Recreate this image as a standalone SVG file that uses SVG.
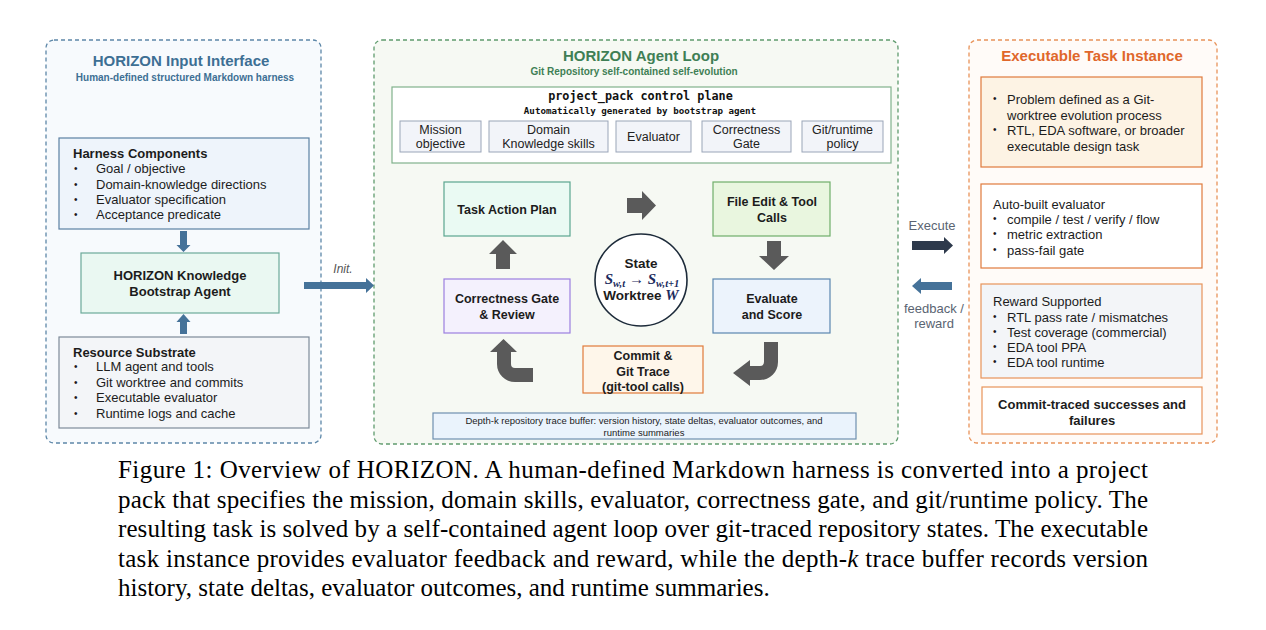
<svg xmlns="http://www.w3.org/2000/svg" width="1266" height="630" viewBox="0 0 1266 630">
<defs>
<style>
text { font-family: "Liberation Sans", Arial, Helvetica, sans-serif; fill: #1c1c1c; }
.title { font-size: 15px; font-weight: bold; text-anchor: middle; }
.sub { font-size: 10px; font-weight: bold; text-anchor: middle; }
.body { font-size: 13px; }
.bul { font-size: 10px; }
.hd { font-size: 13px; font-weight: bold; }
.node { font-size: 12.5px; font-weight: bold; text-anchor: middle; }
.pk { font-size: 12.5px; text-anchor: middle; fill: #222; }
.mono { font-family: "DejaVu Sans Mono", "Liberation Mono", monospace; font-weight: bold; text-anchor: middle; fill: #111; }
.cap { font-family: "Liberation Serif", "Times New Roman", serif; font-size: 25px; fill: #000; }
.math { font-family: "Liberation Serif", "Times New Roman", serif; font-style: italic; font-weight: bold; fill: #1c2b5e; }
.lbl { font-size: 13px; text-anchor: middle; fill: #5a6472; }
.cBlue { fill: #3d6f94; }
.cGreen { fill: #3f7f55; }
.cOrange { fill: #e0672b; }
.garrow { fill: #5a5a5a; }
.barrow { fill: #457299; }
.panel { stroke-width: 1.3; stroke-dasharray: 4 3; }
</style>
</defs>
<rect x="0" y="0" width="1266" height="630" fill="#ffffff"/>

<!-- Left panel -->
<g id="input-interface">
  <rect class="panel" x="46" y="40" width="275" height="403" rx="8" fill="#f7fafd" stroke="#5d87a8"/>
  <text class="title cBlue" x="181" y="66">HORIZON Input Interface</text>
  <text class="sub cBlue" x="185" y="81">Human-defined structured Markdown harness</text>
</g>
<g id="harness-components">
  <rect x="59" y="138" width="250" height="91" fill="#eef4fb" stroke="#5b80a3" stroke-width="1.2"/>
  <text class="hd" x="73" y="158">Harness Components</text>
  <text class="bul" x="74" y="172">•</text><text class="body" x="96" y="173">Goal / objective</text>
  <text class="bul" x="74" y="188">•</text><text class="body" x="96" y="189">Domain-knowledge directions</text>
  <text class="bul" x="74" y="203">•</text><text class="body" x="96" y="204">Evaluator specification</text>
  <text class="bul" x="74" y="218">•</text><text class="body" x="96" y="219">Acceptance predicate</text>
</g>
<g id="bootstrap-agent">
  <rect x="81" y="253" width="198" height="60" fill="#eaf8f2" stroke="#6caa9a" stroke-width="1.2"/>
  <text class="node" x="180" y="280" style="font-size:13px">HORIZON Knowledge</text>
  <text class="node" x="180" y="296" style="font-size:13px">Bootstrap Agent</text>
</g>
<g id="resource-substrate">
  <rect x="59" y="337" width="250" height="91" fill="#f3f5f8" stroke="#7d8a99" stroke-width="1.2"/>
  <text class="hd" x="73" y="357">Resource Substrate</text>
  <text class="bul" x="74" y="370">•</text><text class="body" x="96" y="371">LLM agent and tools</text>
  <text class="bul" x="74" y="386">•</text><text class="body" x="96" y="387">Git worktree and commits</text>
  <text class="bul" x="74" y="401">•</text><text class="body" x="96" y="402">Executable evaluator</text>
  <text class="bul" x="74" y="417">•</text><text class="body" x="96" y="418">Runtime logs and cache</text>
</g>

<!-- Middle panel -->
<g id="agent-loop">
  <rect class="panel" x="374" y="40" width="524" height="404" rx="8" fill="#f6f9f3" stroke="#5f9b6d"/>
  <text class="title cGreen" x="641" y="61">HORIZON Agent Loop</text>
  <text class="sub cGreen" x="634" y="75">Git Repository self-contained self-evolution</text>
</g>
<g id="project-pack">
  <rect x="392" y="87" width="499" height="76" fill="#ffffff" stroke="#80b18c" stroke-width="1.2"/>
  <text class="mono" x="640.5" y="100" style="font-size:11.8px">project_pack control plane</text>
  <text class="mono" x="640" y="114" style="font-size:9.2px">Automatically generated by bootstrap agent</text>
  <g fill="#f2f4f9" stroke="#9aa5b8" stroke-width="1">
    <rect x="400" y="121" width="81" height="31"/>
    <rect x="489" y="121" width="119" height="31"/>
    <rect x="616" y="121" width="75" height="31"/>
    <rect x="702" y="121" width="89" height="31"/>
    <rect x="802" y="121" width="81" height="31"/>
  </g>
  <text class="pk" x="440.5" y="134">Mission</text>
  <text class="pk" x="440.5" y="148">objective</text>
  <text class="pk" x="548.5" y="134">Domain</text>
  <text class="pk" x="548.5" y="148">Knowledge skills</text>
  <text class="pk" x="653.5" y="141">Evaluator</text>
  <text class="pk" x="746.5" y="134">Correctness</text>
  <text class="pk" x="746.5" y="148">Gate</text>
  <text class="pk" x="842.5" y="134">Git/runtime</text>
  <text class="pk" x="842.5" y="148">policy</text>
</g>
<g id="task-action-plan">
  <rect x="444" y="182" width="126" height="54" fill="#eafaf3" stroke="#5aa58f" stroke-width="1.2"/>
  <text class="node" x="507" y="214">Task Action Plan</text>
</g>
<g id="file-edit">
  <rect x="713" y="182" width="117" height="54" fill="#e9f6df" stroke="#6fae6a" stroke-width="1.2"/>
  <text class="node" x="772" y="206">File Edit &amp; Tool</text>
  <text class="node" x="772" y="222">Calls</text>
</g>
<g id="evaluate-score">
  <rect x="713" y="279" width="117" height="54" fill="#ecf3fc" stroke="#5b86b0" stroke-width="1.2"/>
  <text class="node" x="772" y="303">Evaluate</text>
  <text class="node" x="772" y="319">and Score</text>
</g>
<g id="correctness-gate">
  <rect x="444" y="279" width="126" height="54" fill="#f4f1fd" stroke="#9b7fe0" stroke-width="1.2"/>
  <text class="node" x="507" y="303">Correctness Gate</text>
  <text class="node" x="507" y="319">&amp; Review</text>
</g>
<g id="commit-trace">
  <rect x="583" y="346" width="120" height="47" fill="#fef6ea" stroke="#e07b3a" stroke-width="1.2"/>
  <text class="node" x="643" y="360">Commit &amp;</text>
  <text class="node" x="643" y="376">Git Trace</text>
  <text class="node" x="643" y="391">(git-tool calls)</text>
</g>
<g id="state">
  <circle cx="641" cy="280" r="46" fill="#ffffff" stroke="#1d2b3a" stroke-width="1.6"/>
  <text class="node" x="641" y="268" style="font-size:13.5px">State</text>
  <text class="math" x="642" y="284" text-anchor="middle" style="font-size:15px">S<tspan style="font-size:10.5px" dy="3">w,t</tspan><tspan dy="-3" style="font-style:normal;font-weight:normal"> → </tspan>S<tspan style="font-size:10.5px" dy="3">w,t+1</tspan></text>
  <text class="node" x="641" y="300" style="font-size:13.5px">Worktree <tspan class="math" style="font-size:15px">W</tspan></text>
</g>
<g id="trace-buffer">
  <rect x="433" y="413" width="423" height="26" fill="#eaf3fc" stroke="#6e8fb0" stroke-width="1.2"/>
  <text x="644" y="424" text-anchor="middle" style="font-size:9.5px">Depth-k repository trace buffer: version history, state deltas, evaluator outcomes, and</text>
  <text x="644" y="436" text-anchor="middle" style="font-size:9.5px">runtime summaries</text>
</g>

<!-- Right panel -->
<g id="task-instance">
  <rect class="panel" x="969" y="40" width="248" height="403" rx="8" fill="#fffbf8" stroke="#e8935a"/>
  <text class="title cOrange" x="1092" y="61">Executable Task Instance</text>
</g>
<g id="problem-box">
  <rect x="981" y="77" width="221" height="90" fill="#fdf3e4" stroke="#e07a3c" stroke-width="1.2"/>
  <text class="bul" x="993" y="102">•</text><text class="body" x="1007" y="104">Problem defined as a Git-</text>
  <text class="body" x="1007" y="120">worktree evolution process</text>
  <text class="bul" x="993" y="133">•</text><text class="body" x="1007" y="135">RTL, EDA software, or broader</text>
  <text class="body" x="1007" y="151">executable design task</text>
</g>
<g id="evaluator-box">
  <rect x="981" y="184" width="221" height="84" fill="#ffffff" stroke="#e07a3c" stroke-width="1.2"/>
  <text class="body" x="993" y="209">Auto-built evaluator</text>
  <text class="bul" x="993" y="222">•</text><text class="body" x="1007" y="224">compile / test / verify / flow</text>
  <text class="bul" x="993" y="237">•</text><text class="body" x="1007" y="239">metric extraction</text>
  <text class="bul" x="993" y="253">•</text><text class="body" x="1007" y="255">pass-fail gate</text>
</g>
<g id="reward-box">
  <rect x="981" y="284" width="221" height="94" fill="#f3f5f8" stroke="#e8935a" stroke-width="1.2"/>
  <text class="body" x="993" y="306">Reward Supported</text>
  <text class="bul" x="993" y="320">•</text><text class="body" x="1007" y="322">RTL pass rate / mismatches</text>
  <text class="bul" x="993" y="335">•</text><text class="body" x="1007" y="337">Test coverage (commercial)</text>
  <text class="bul" x="993" y="350">•</text><text class="body" x="1007" y="352">EDA tool PPA</text>
  <text class="bul" x="993" y="365">•</text><text class="body" x="1007" y="367">EDA tool runtime</text>
</g>
<g id="commit-traced-box">
  <rect x="982" y="387" width="220" height="47" fill="#ffffff" stroke="#e8935a" stroke-width="1.2"/>
  <text class="hd" x="1092" y="409" text-anchor="middle">Commit-traced successes and</text>
  <text class="hd" x="1092" y="425" text-anchor="middle">failures</text>
</g>

<!-- Connectors -->
<g id="connectors">
  <polygon class="barrow" points="180,231 187,231 187,245 190.5,245 183.5,252 176.5,245 180,245"/>
  <polygon class="barrow" points="183.5,314 190.5,322 187,322 187,334 180,334 180,322 176.5,322"/>
  <polygon class="barrow" points="304,282 366,282 366,278 374,285.5 366,293 366,289 304,289"/>
  <text x="343" y="273" text-anchor="middle" style="font-size:12px;font-style:italic;fill:#555">Init.</text>

  <polygon class="garrow" points="627,198 642,198 642,191 656,205.5 642,220 642,213 627,213"/>
  <polygon class="garrow" points="767,241 781,241 781,256 789,256 774,270 759,256 767,256"/>
  <polygon class="garrow" points="503,240 517,254 510,254 510,269 496,269 496,254 489,254"/>
  <path class="garrow" d="M 490 352 L 503.5 339 L 517 352 L 511 352 L 511 364 Q 511 368 515 368 L 533 368 L 533 382 L 515 382 A 18 18 0 0 1 497 364 L 497 352 Z"/>
  <path class="garrow" d="M 764 342 L 778 342 L 778 362 A 18 18 0 0 1 760 380 L 750 380 L 750 386 L 733 373 L 750 360 L 750 366 L 760 366 Q 764 366 764 362 Z"/>

  <text class="lbl" x="932" y="230">Execute</text>
  <polygon points="912,241 944,241 944,237 953,245.5 944,254 944,250 912,250" fill="#2e3a4c"/>
  <polygon class="barrow" points="912,286 921,278 921,282 952,282 952,290 921,290 921,294"/>
  <text class="lbl" x="934" y="313">feedback /</text>
  <text class="lbl" x="934" y="328">reward</text>
</g>

<!-- Caption -->
<g id="caption">
  <text class="cap" x="118" y="478" textLength="1030" lengthAdjust="spacing">Figure 1: Overview of HORIZON. A human-defined Markdown harness is converted into a project</text>
  <text class="cap" x="118" y="507.5" textLength="1030" lengthAdjust="spacing">pack that specifies the mission, domain skills, evaluator, correctness gate, and git/runtime policy. The</text>
  <text class="cap" x="118" y="537" textLength="1030" lengthAdjust="spacing">resulting task is solved by a self-contained agent loop over git-traced repository states. The executable</text>
  <text class="cap" x="118" y="566.5" textLength="1030" lengthAdjust="spacing">task instance provides evaluator feedback and reward, while the depth-<tspan font-style="italic">k</tspan> trace buffer records version</text>
  <text class="cap" x="118" y="596">history, state deltas, evaluator outcomes, and runtime summaries.</text>
</g>
</svg>
